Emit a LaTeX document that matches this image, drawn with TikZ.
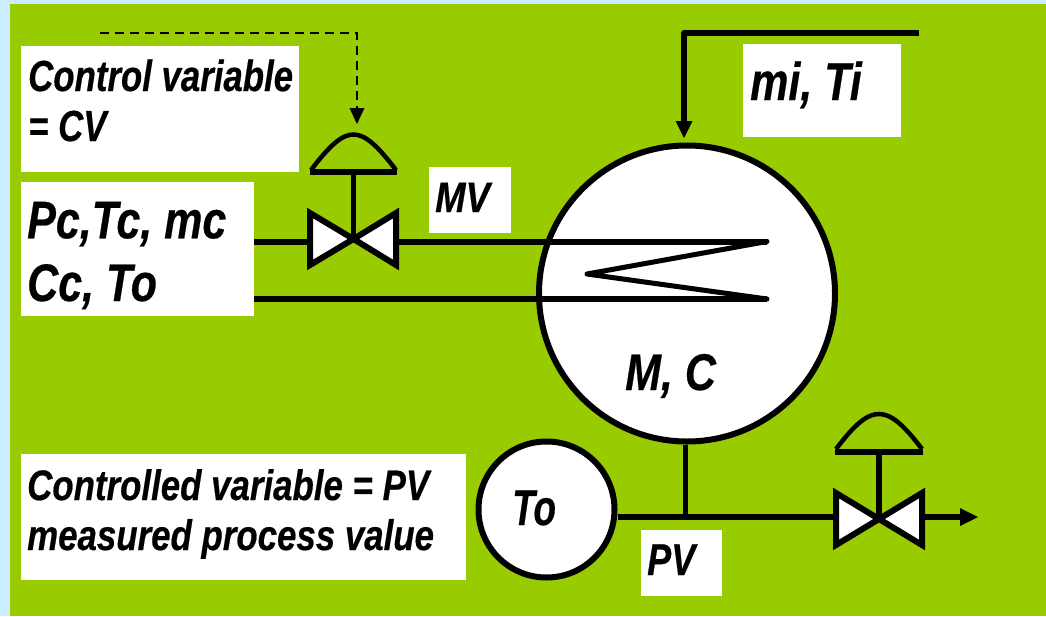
\documentclass[tikz,border=0pt]{standalone}
\usepackage{fontspec}
\setmainfont[BoldItalicFeatures={FakeBold=0.5}]{Liberation Sans}
\usetikzlibrary{arrows.meta}
\definecolor{bgblue}{HTML}{CCECFF}
\definecolor{bggreen}{HTML}{99CC00}
\tikzset{
  labelbox/.style={fill=white,draw=none,inner sep=0pt,anchor=north west},
  lbl/.style={inner sep=0pt,anchor=base west,align=left,transform shape},
  pipe/.style={line width=6pt,black},
  coil/.style={line width=5pt,black,line cap=round,line join=round},
  vessel/.style={circle,draw=black,fill=white,line width=6pt,inner sep=0pt},
  valvebody/.style={draw=black,fill=white,line width=6pt,miter limit=10},
  actuator/.style={draw=black,line width=5.5pt},
  signal/.style={line width=2.5pt,black,dash pattern=on 9pt off 6pt},
}
\newcommand{\boxat}[5]{\node[labelbox,minimum width=#4pt,minimum height=#5pt] (#1) at (#2,-#3) {};}
\newcommand{\bi}[2]{\bfseries\itshape\fontsize{#1}{#2}\selectfont}
\begin{document}
\begin{tikzpicture}[x=1pt,y=1pt]
\useasboundingbox (0,0) rectangle (1046,-616);
\fill[bgblue] (0,0) rectangle (1046,-616);
\fill[bggreen] (10,-4) rectangle (1046,-616);
% boxes
\boxat{cvbox}{21}{46}{278}{126}
\boxat{pcbox}{21}{182}{233}{134}
\boxat{mvbox}{429}{167}{82}{66}
\boxat{mibox}{743}{44}{158}{93}
\boxat{pvtext}{21}{454}{445}{126}
\boxat{pvbox}{641}{530}{81}{66}
% vessels
\node[vessel,minimum size=296pt] (tank) at (687,-293.5) {};
\node[vessel,minimum size=136pt] (sensor) at (546.5,-509.5) {};
% named points
\coordinate (vA) at (353.5,-239);
\coordinate (vB) at (879,-519);
\coordinate (inE) at (767,-241.5);
\coordinate (outE) at (767,-299);
\coordinate (apex) at (587,-274);
\coordinate (feed) at (919,-33);
\coordinate (feedC) at (684,-33);
\coordinate (feedT) at (684,-138);
\coordinate (sigS) at (100,-33);
\coordinate (sigC) at (357,-33);
\coordinate (sigT) at (357,-124);
\coordinate (tapT) at (685,-445);
\coordinate (tapB) at (685,-517);
\coordinate (endT) at (978,-517);
% pipes
\draw[pipe] (pcbox.east |- inE) -- (311,-241.5);
\draw[pipe] (395,-241.5) -- (inE);
\draw[pipe] (pcbox.east |- outE) -- (outE);
\draw[coil] (inE) -- (apex) -- (outE);
\draw[line width=5.5pt,black,line join=round] (feed) -- (feedC) -- (684,-122);
\fill[black] (675.5,-121) -- (692.5,-121) -- (feedT) -- cycle;
\draw[signal] (sigS) -- (sigC) -- (357,-108);
\fill[black] (349.5,-108) -- (364.5,-108) -- (sigT) -- cycle;
\draw[line width=5pt,black] (tapT) -- (tapB);
\draw[pipe] (sensor.east |- tapB) -- (840,-517);
\draw[pipe] (920,-517) -- (962,-517);
\fill[black] (960,-508) -- (960,-526) -- (endT) -- cycle;
% valve A
\draw[valvebody] (310,-213) -- (vA) -- (310,-265) -- cycle;
\draw[valvebody] (396,-213) -- (vA) -- (396,-265) -- cycle;
\draw[actuator] (vA) -- (353.5,-172);
\draw[line width=6pt,black] (310,-172) -- (397,-172);
\draw[line width=4.5pt,black] (311,-170) .. controls (330,-145) and (342,-134.5) .. (353.5,-134.5) .. controls (365,-134.5) and (377,-145) .. (396,-170);
% valve B
\draw[valvebody] (836,-493) -- (vB) -- (836,-545) -- cycle;
\draw[valvebody] (922,-493) -- (vB) -- (922,-545) -- cycle;
\draw[actuator] (vB) -- (879,-452);
\draw[line width=6pt,black] (835,-451.5) -- (923,-451.5);
\draw[line width=4.5pt,black] (836,-449) .. controls (855,-424) and (867,-414) .. (879,-414) .. controls (891,-414) and (903,-424) .. (922,-449);
% labels
\node[lbl,yscale=1.25,font=\bi{34.8}{40}] (t1) at (28,-141) {Control variable\\= CV};
\node[lbl,yscale=1.23,font=\bi{43}{51}] (t2) at (27,-301) {Pc,Tc, mc\\Cc, To};
\node[lbl,yscale=1.17,font=\bi{36.5}{40}] (t3) at (435,-212) {MV};
\node[lbl,yscale=1.24,font=\bi{43}{50}] (t4) at (750,-100) {mi, Ti};
\node[lbl,yscale=1.2,font=\bi{43}{50}] (t5) at (625,-390) {M, C};
\node[lbl,yscale=1.36,font=\bi{37}{40}] (t6) at (512,-525) {To};
\node[lbl,yscale=1.24,font=\bi{36}{40}] (t7) at (647,-575) {PV};
\node[lbl,xscale=0.955,yscale=1.17,font=\bi{36.5}{42.7}] (t8) at (27,-550) {Controlled variable = PV\\measured process value};
\end{tikzpicture}
\end{document}
